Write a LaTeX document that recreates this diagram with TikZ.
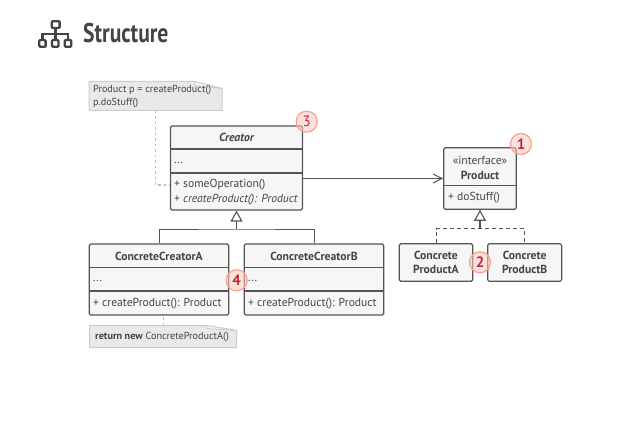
\documentclass[tikz,border=0pt]{standalone}
\usepackage{fontspec}
\setmainfont{PT Sans}
\newfontfamily\headfont[FakeStretch=0.8]{PT Sans}
\usetikzlibrary{arrows.meta}
\definecolor{inkgray}{HTML}{444444}
\definecolor{linegray}{HTML}{555555}
\definecolor{boxfill}{HTML}{F6F6F6}
\definecolor{notefill}{HTML}{E9E9E9}
\definecolor{noteline}{HTML}{CCCCCC}
\definecolor{notefold}{HTML}{F4F4F4}
\definecolor{badgeline}{HTML}{FB9F8F}
\definecolor{badgefill}{HTML}{F8C9C0}
\definecolor{badgeink}{HTML}{C4283A}
\tikzset{
  umlbox/.style={draw=linegray,fill=boxfill,line width=1.1pt,rounded corners=1.5pt,inner sep=0pt},
  divider/.style={draw=linegray,line width=1.1pt},
  titletext/.style={text=inkgray,font=\fontsize{11.7}{14.5}\selectfont\bfseries,inner sep=0pt,align=center},
  membertext/.style={text=inkgray,font=\fontsize{11.6}{14}\selectfont,inner sep=0pt,anchor=west},
  notetext/.style={text=inkgray,font=\fontsize{10.2}{12}\selectfont,inner sep=0pt,anchor=west},
  notebox/.style={inner sep=0pt},
  noteshape/.style={fill=notefill,draw=noteline,line width=1pt},
  foldshape/.style={fill=notefold,draw=noteline,line width=0.8pt},
  linkline/.style={draw=noteline!80!gray,line width=1pt,dash pattern=on 2.5pt off 3pt},
  inherit/.style={draw=linegray,line width=1pt},
  assoc/.style={draw=linegray,line width=1pt,-{Straight Barb[length=9pt,width=9pt]}},
  hollowtip/.style={draw=linegray,line width=1.1pt,-{Triangle[open,length=11pt,width=12pt,fill=white]}},
  badge/.style={circle,draw=badgeline,fill=badgefill,fill opacity=0.55,text opacity=1,line width=1.2pt,
    minimum size=21pt,inner sep=0pt,text=badgeink,font=\fontsize{15}{15}\selectfont\bfseries},
  iconline/.style={draw=inkgray,line width=2.3pt},
}
\begin{document}
\begin{tikzpicture}[x=1pt,y=-1pt]
  \useasboundingbox (0,0) rectangle (624,425);

  % heading
  \draw[iconline,rounded corners=1pt] (51.8,21.2) rectangle (59.6,28);
  \draw[iconline,rounded corners=1pt] (39.3,40) rectangle (45.6,46.8);
  \draw[iconline,rounded corners=1pt] (52,40) rectangle (58.5,46.8);
  \draw[iconline,rounded corners=1pt] (64.8,40) rectangle (71.3,46.8);
  \draw[iconline] (55.5,28) -- (55.5,40);
  \draw[iconline] (42.5,40) -- (42.5,34) -- (68,34) -- (68,40);
  \node[text=inkgray,anchor=west,inner sep=0pt,font=\headfont\fontsize{27}{27}\selectfont\bfseries] (heading) at (83,33) {Structure};

  % notes
  \node[notebox,minimum width=133,minimum height=29.5] (callnote) at (155.5,96) {};
  \draw[noteshape] (89,81.5) -- (195,81.5) -- (222,88.5) -- (222,110.5) -- (89,110.5) -- cycle;
  \draw[foldshape] (195,81.5) -- (222,88.5) -- (195,85.5) -- cycle;
  \node[notetext] (calltext) at (93,89.5) {Product p = createProduct()};
  \node[notetext] (calltextb) at (93,103) {p.doStuff()};

  \node[notebox,minimum width=147.5,minimum height=22.5] (newnote) at (163,336.5) {};
  \draw[noteshape] (89.5,325.5) -- (207,325.5) -- (236.5,330.5) -- (236.5,347.5) -- (89.5,347.5) -- cycle;
  \draw[foldshape] (207,325.5) -- (236.5,330.5) -- (207,328.5) -- cycle;
  \node[notetext] (newtext) at (95,337) {\textbf{return new} ConcreteProductA()};

  % creator
  \node[umlbox,minimum width=132,minimum height=84] (creator) at (236.5,168) {};
  \draw[divider] (creator.west |- 0,149) -- (creator.east |- 0,149);
  \draw[divider] (creator.west |- 0,173) -- (creator.east |- 0,173);
  \node[titletext] (creatorname) at (236.5,137.5) {\itshape Creator};
  \node[membertext] (creatordots) at (174,162.5) {...};
  \node[membertext] (creatorop) at (174,185) {+ someOperation()};
  \node[membertext] (creatormake) at (174,199.5) {+ \itshape createProduct(): Product};

  % concrete creators
  \node[umlbox,minimum width=139.5,minimum height=71] (creatorA) at (159,279.5) {};
  \draw[divider] (creatorA.west |- 0,267.5) -- (creatorA.east |- 0,267.5);
  \draw[divider] (creatorA.west |- 0,291) -- (creatorA.east |- 0,291);
  \node[titletext] (creatorAname) at (159,256) {ConcreteCreatorA};
  \node[membertext] (creatorAdots) at (93,281) {...};
  \node[membertext] (creatorAmake) at (93,304) {+ createProduct(): Product};

  \node[umlbox,minimum width=139.5,minimum height=71] (creatorB) at (314,279.5) {};
  \draw[divider] (creatorB.west |- 0,267.5) -- (creatorB.east |- 0,267.5);
  \draw[divider] (creatorB.west |- 0,291) -- (creatorB.east |- 0,291);
  \node[titletext] (creatorBname) at (314,256) {ConcreteCreatorB};
  \node[membertext] (creatorBdots) at (248,281) {...};
  \node[membertext] (creatorBmake) at (248,304) {+ createProduct(): Product};

  % product
  \node[umlbox,minimum width=72.5,minimum height=61.5] (product) at (480,178.5) {};
  \draw[divider] (product.west |- 0,185.5) -- (product.east |- 0,185.5);
  \node[membertext,anchor=center] (productkind) at (480,160) {«interface»};
  \node[titletext] (productname) at (480,175) {Product};
  \node[membertext] (productop) at (448,198) {+ doStuff()};

  \node[umlbox,minimum width=73.5,minimum height=37.5] (productA) at (436,262.5) {};
  \node[titletext] (productAname) at (436,262.5) {Concrete\\ProductA};
  \node[umlbox,minimum width=74,minimum height=37.5] (productB) at (524.7,262.5) {};
  \node[titletext] (productBname) at (524.7,262.5) {Concrete\\ProductB};

  % connectors
  \draw[linkline] (callnote.south) |- (creator.west |- creatorop);
  \draw[linkline] (newnote.north) -- (newnote.north |- creatorA.south);
  \draw[assoc] (creator.east |- product.west) -- (product.west);

  \coordinate (creatorjoin) at (236.5,229);
  \draw[inherit] (creatorA.north) |- (creatorjoin) -| (creatorB.north);
  \draw[hollowtip] (creatorjoin) -- (creator.south);

  \coordinate (productjoin) at (480,228.7);
  \draw[inherit,dash pattern=on 4.5pt off 2.5pt] (productA.north) |- (productjoin) -| (productB.north);
  \draw[hollowtip] (productjoin) -- (product.south);

  % numbers
  \node[badge] (badge1) at (521,144) {1};
  \node[badge] (badge2) at (480,262.3) {2};
  \node[badge,font=\fontsize{15}{15}\selectfont] (badge3) at (306.7,121.7) {3};
  \node[badge] (badge4) at (236.7,280.3) {4};
\end{tikzpicture}
\end{document}
